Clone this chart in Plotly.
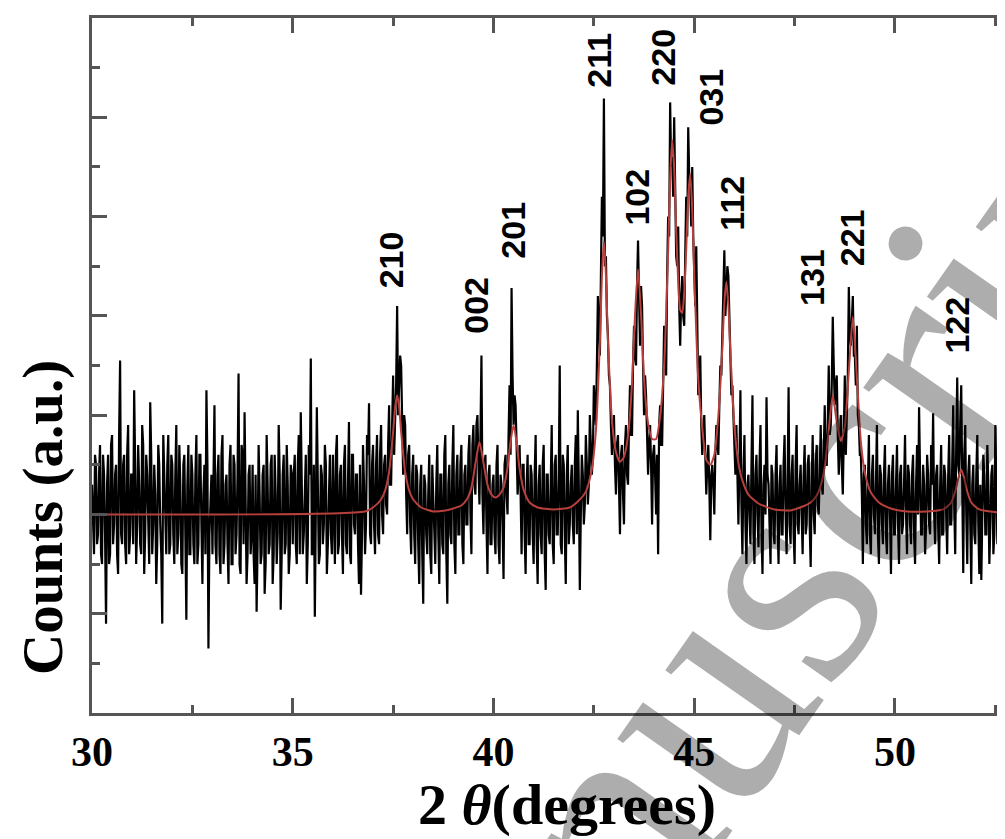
import numpy as np
import plotly.graph_objects as go

# ---- measured XRD pattern, points on the 0.05° grid (30.00 ... 52.85) ----
c30 = [2.3,1.6,2.5,1.8,2.7,1.5,2.4,0.9,2.6,1.6,2.8,1.9,2.5,1.4,3.55,1.7,2.6,1.5,2.9,1.8]
c31 = [2.4,3.25,1.5,2.7,1.7,2.9,1.4,2.6,1.8,3.13,1.6,2.5,1.3,2.7,1.9,0.9,2.4,1.6,2.8,1.7]
c32 = [2.5,1.5,2.9,1.8,2.3,1.4,2.6,0.94,2.7,1.6,2.4,1.5,2.8,1.7,2.6,1.3,2.5,3.25,0.65,2.2]
c33 = [1.6,3.1,1.5,2.6,1.4,2.8,1.7,2.4,1.3,2.7,1.5,2.5,1.8,3.42,1.4,2.6,3.03,1.3,2.4,1.6]
c34 = [2.5,1.3,1.02,2.7,1.5,2.4,1.2,2.8,1.6,2.5,1.3,2.6,1.5,2.9,1.04,2.4,1.6,2.7,1.4,2.5]
c35 = [1.7,2.6,1.5,2.8,3.03,1.6,2.4,1.3,2.7,3.57,1.6,0.97,3.08,1.5,2.5,1.7,2.7,1.4,2.4,1.8]
c36 = [2.6,1.5,2.8,1.7,2.5,1.4,2.7,1.6,2.93,1.5,2.6,1.8,2.4,1.3,1.19,2.7,1.6,2.8,3.12,1.7]
c37 = [2.7,1.6,2.8,1.7,2.9,1.8,2.6,2.0,3.1,2.3,3.4,3.0,4.1,3.3,3.5,2.4,2.9,1.8,2.7,1.6]
c38 = [2.6,1.5,2.4,1.3,2.5,1.1,2.3,1.6,2.6,1.4,2.2,1.5,2.7,1.3,2.4,1.6,2.8,1.1,2.5,1.7]
c39 = [2.9,1.4,2.6,1.8,2.7,1.5,2.5,1.9,2.8,1.6,2.9,2.2,3.0,2.1,3.6,1.8,2.6,1.4,2.5,1.7]
c40 = [2.4,1.6,2.7,1.5,2.3,1.35,2.6,2.0,3.3,4.28,2.9,3.1,2.2,2.7,1.6,2.5,1.4,2.6,1.7,2.4]
c41 = [1.5,2.8,1.3,2.5,1.6,2.7,1.24,2.4,1.7,2.9,1.5,2.6,1.8,3.5,1.6,2.5,1.3,2.7,1.9,2.5]
c42 = [1.7,2.8,3.05,1.24,2.6,1.9,2.8,2.1,3.0,2.4,3.3,2.9,4.2,3.6,5.2,6.19,4.6,3.8,3.3,2.6]
c43 = [3.0,2.2,2.8,1.8,2.7,1.9,2.9,2.3,3.3,2.8,3.9,3.5,4.76,3.7,4.1,3.0,3.2,2.4,2.9,1.9]
c44 = [2.7,2.0,1.6,3.1,2.7,3.9,3.4,5.0,6.15,5.6,6.0,4.6,4.9,3.7,4.4,3.9,5.2,5.9,5.3,5.5]
c45 = [4.3,4.7,3.2,3.6,2.6,3.0,2.2,2.7,1.74,2.5,2.0,2.9,2.6,3.5,3.9,4.66,4.2,4.4,3.5,3.3]
c46 = [2.6,2.9,1.9,3.25,1.6,2.8,1.5,2.4,1.7,3.2,1.5,2.6,1.67,2.9,1.4,2.5,3.18,2.3,1.5,2.4]
c47 = [1.7,2.7,1.5,2.5,1.8,2.8,1.6,3.28,1.7,2.6,1.5,2.9,1.8,2.5,1.6,2.7,1.9,2.6,1.47,2.8]
c48 = [1.8,2.7,2.0,2.9,2.2,3.1,2.5,3.5,2.9,3.99,3.1,3.4,2.4,3.0,2.2,3.4,3.0,4.29,3.7,4.2]
c49 = [3.6,3.9,2.9,2.6,1.5,2.5,1.7,2.8,1.6,2.6,1.8,2.9,1.5,2.4,1.7,2.7,1.6,2.5,1.4,2.6]
c50 = [1.8,2.7,1.5,2.5,1.9,2.8,1.6,2.4,1.7,2.6,1.5,2.7,3.08,1.8,2.5,1.6,2.6,1.9,2.7,3.02]
c51 = [1.7,2.5,1.5,2.7,1.8,2.4,1.6,2.8,1.9,3.1,1.6,3.38,2.4,3.3,1.41,2.9,1.5,2.6,1.3,2.5]
c52 = [1.7,2.8,1.4,1.34,2.6,1.8,2.7,1.5,2.4,1.6,2.9,1.7,2.5,1.4,2.6,1.8,2.7,1.6]

# ---- points half-way between (30.025 ... 52.875) ----
h30 = [1.9,2.6,1.7,2.4,1.6,2.6,1.8,2.3,1.5,2.7,1.7,2.4,1.6,2.8,1.8,2.5,1.7,2.6,1.6,2.4]
h31 = [1.7,2.5,1.9,2.3,1.6,2.7,1.8,2.4,1.5,2.6,1.9,2.2,1.7,2.5,1.6,2.8,1.8,2.5,1.6,2.6]
h32 = [1.8,2.4,1.6,2.7,1.5,2.5,1.8,2.3,1.6,2.6,1.7,2.4,1.5,2.6,1.9,2.2,1.6,2.5,1.8,2.4]
h33 = [2.5,1.7,2.4,1.6,2.6,1.5,2.3,1.7,2.5,1.5,2.6,1.6,2.4,1.5,2.7,1.7,2.2,1.6,2.5,1.8]
h34 = [1.6,2.4,1.7,2.2,1.6,2.5,1.5,2.3,1.7,2.6,1.6,2.2,1.8,2.4,1.6,2.6,1.7,2.3,1.6,2.4]
h35 = [2.4,1.7,2.5,1.6,2.3,1.8,2.6,1.7,2.4,1.6,2.5,1.8,2.3,1.6,2.4,1.9,2.5,1.7,2.6,1.6]
h36 = [1.8,2.6,1.6,2.4,1.8,2.5,1.7,2.3,1.6,2.6,1.9,2.4,1.7,2.5,1.8,2.3,1.9,2.6,1.8,2.5]
h37 = [1.9,2.5,1.8,2.6,2.0,2.5,2.1,2.7,2.3,2.9,2.6,3.3,3.0,3.6,2.7,3.0,2.2,2.6,1.9,2.4]
h38 = [1.8,2.5,1.7,2.3,1.6,2.4,1.8,2.2,1.6,2.5,1.7,2.3,1.8,2.4,1.7,2.6,1.6,2.3,1.8,2.5]
h39 = [1.7,2.4,1.8,2.5,1.7,2.4,1.9,2.6,2.0,2.7,2.3,2.9,2.5,2.8,2.2,2.5,1.9,2.4,1.7,2.3]
h40 = [1.8,2.5,1.7,2.4,1.9,2.5,2.2,2.8,2.6,3.4,3.2,2.7,2.4,2.2,2.5,1.8,2.3,1.7,2.5,1.8]
h41 = [2.4,1.7,2.3,1.8,2.5,1.6,2.4,1.8,2.3,1.7,2.5,1.8,2.4,1.7,2.6,1.8,2.4,1.7,2.3,1.9]
h42 = [2.5,1.8,2.3,2.0,2.4,2.1,2.5,2.3,2.7,2.6,3.1,3.5,3.9,4.4,4.8,4.5,4.0,3.4,2.9,2.8]
h43 = [2.5,2.7,2.3,2.6,2.2,2.7,2.4,2.9,2.8,3.5,3.6,4.3,4.2,4.3,3.5,3.4,2.8,2.7,2.5,2.6]
h44 = [2.4,2.6,2.9,2.7,3.3,3.6,4.4,4.8,5.5,5.2,5.3,4.5,4.1,4.2,4.0,4.6,4.8,5.4,4.9,4.8]
h45 = [4.1,3.8,3.4,2.9,2.8,2.6,2.5,2.3,2.4,2.3,2.6,2.7,3.1,3.4,4.1,4.0,4.5,3.9,3.2,2.9]
h46 = [2.4,2.2,2.5,2.1,2.4,1.9,2.3,2.0,2.5,1.8,2.4,2.0,2.5,1.8,2.3,2.0,2.4,1.9,2.5,1.8]
h47 = [2.4,1.9,2.3,1.8,2.5,2.0,2.3,1.9,2.4,1.8,2.5,1.9,2.3,2.0,2.4,1.8,2.5,1.9,2.3,2.0]
h48 = [2.5,2.1,2.4,2.3,2.6,2.5,2.9,2.8,3.3,3.5,3.3,2.8,2.7,2.5,2.8,2.6,3.4,3.8,3.9,3.6]
h49 = [3.3,3.0,2.6,2.2,2.4,1.9,2.3,1.8,2.4,2.0,2.3,1.8,2.5,1.9,2.4,1.8,2.3,2.0,2.4,1.8]
h50 = [2.3,1.9,2.4,1.8,2.3,2.0,2.5,1.9,2.4,1.8,2.3,2.0,2.4,1.8,2.3,1.9,2.4,1.8,2.3,2.0]
h51 = [2.4,1.9,2.3,1.8,2.5,2.0,2.4,1.9,2.5,2.1,2.7,2.5,2.9,2.3,2.6,2.0,2.4,1.9,2.3,1.8]
h52 = [2.4,1.9,2.3,2.0,2.4,1.8,2.3,1.9,2.5,1.8,2.3,2.0,2.4,1.9,2.3,1.8,2.4,1.9]

counts_grid = (c30 + c31 + c32 + c33 + c34 + c35 + c36 + c37 + c38 + c39 + c40 + c41
               + c42 + c43 + c44 + c45 + c46 + c47 + c48 + c49 + c50 + c51 + c52)
counts_half = (h30 + h31 + h32 + h33 + h34 + h35 + h36 + h37 + h38 + h39 + h40 + h41
               + h42 + h43 + h44 + h45 + h46 + h47 + h48 + h49 + h50 + h51 + h52)
n_pts = min(len(counts_grid), len(counts_half))
counts = np.empty(2 * n_pts)
counts[0::2] = counts_grid[:n_pts]
counts[1::2] = counts_half[:n_pts]
two_theta = np.round(30.0 + 0.025 * np.arange(2 * n_pts), 3)

# ---- fitted profile (red) ----
fit_2theta = [30.0, 36.8, 37.0, 37.2, 37.3, 37.4, 37.5, 37.55, 37.6, 37.65, 37.7, 37.8, 37.9, 38.0, 38.2, 38.5,
              38.8, 39.0, 39.2, 39.35, 39.45, 39.55, 39.65, 39.75, 39.85, 39.95, 40.05, 40.15, 40.25, 40.35,
              40.42, 40.5, 40.58, 40.65, 40.75, 40.9, 41.1, 41.5, 41.9, 42.1, 42.3, 42.45, 42.55, 42.65, 42.7,
              42.75, 42.8, 42.85, 42.95, 43.05, 43.15, 43.25, 43.35, 43.45, 43.52, 43.6, 43.68, 43.75, 43.85,
              43.95, 44.05, 44.15, 44.25, 44.35, 44.4, 44.45, 44.5, 44.55, 44.6, 44.65, 44.7, 44.75, 44.8,
              44.85, 44.9, 44.95, 45.0, 45.1, 45.2, 45.3, 45.4, 45.5, 45.6, 45.7, 45.75, 45.8, 45.85, 45.9,
              46.0, 46.1, 46.2, 46.35, 46.6, 47.0, 47.4, 47.7, 47.9, 48.05, 48.15, 48.25, 48.35, 48.45, 48.55,
              48.65, 48.75, 48.85, 48.95, 49.05, 49.15, 49.25, 49.4, 49.6, 49.9, 50.3, 50.8, 51.2, 51.4, 51.5,
              51.58, 51.65, 51.72, 51.8, 51.9, 52.1, 52.85]
fit_counts = [2.0, 2.03, 2.07, 2.15, 2.24, 2.43, 2.83, 3.08, 3.2, 3.08, 2.83, 2.43, 2.24, 2.15, 2.07, 2.03,
              2.04, 2.06, 2.09, 2.16, 2.27, 2.51, 2.73, 2.52, 2.30, 2.2, 2.17, 2.2, 2.27, 2.47,
              2.72, 2.9, 2.71, 2.46, 2.25, 2.12, 2.07, 2.05, 2.07, 2.13, 2.23, 2.46, 2.84, 3.74, 4.4,
              4.75, 4.41, 3.76, 2.95, 2.63, 2.53, 2.58, 2.79, 3.32, 3.97, 4.47, 3.98, 3.36, 2.92,
              2.76, 2.76, 2.99, 3.5, 4.65, 5.39, 5.77, 5.49, 4.87, 4.35, 4.06, 4.03, 4.23, 4.67,
              5.2, 5.43, 5.07, 4.41, 3.36, 2.87, 2.55, 2.5, 2.6, 2.99, 3.68, 4.13, 4.34, 4.11, 3.64,
              2.89, 2.52, 2.34, 2.2, 2.11, 2.05, 2.04, 2.08, 2.12, 2.19, 2.29, 2.48, 2.85, 3.2, 2.93,
              2.74, 2.88, 3.44, 3.99, 3.38, 2.73, 2.42, 2.22, 2.12, 2.06, 2.03, 2.03, 2.05, 2.12, 2.23,
              2.37, 2.45, 2.37, 2.23, 2.12, 2.05, 2.01]

# ---- reflection labels ----
peak_labels = ["210", "002", "201", "211", "102", "220", "031", "112", "131", "221", "122"]
label_2theta = [37.45, 39.56, 40.49, 42.63, 43.57, 44.22, 45.42, 45.94, 47.93, 48.95, 51.54]
label_height = [4.56, 4.11, 4.86, 6.57, 5.20, 6.61, 6.20, 5.14, 4.39, 4.79, 3.91]

x_ticks = [30, 35, 40, 45, 50]

fig = go.Figure()
fig.add_trace(go.Scatter(x=two_theta, y=counts, mode="lines",
                         line=dict(color="black", width=2.2), name="Data", showlegend=False))
fig.add_trace(go.Scatter(x=fit_2theta, y=fit_counts, mode="lines",
                         line=dict(color="#b8403c", width=2, shape="spline", smoothing=0.6),
                         name="Fit", showlegend=False))

for lab, xx, yy in zip(peak_labels, label_2theta, label_height):
    fig.add_annotation(x=xx, y=yy, xref="x", yref="y", text="<b>%s</b>" % lab, showarrow=False,
                       textangle=-90, font=dict(family="Liberation Sans", size=34, color="black"))

fig.add_annotation(xref="paper", yref="paper", x=0.520, y=-0.1813, xanchor="center", yanchor="bottom",
                   text="<b>2 <i>θ</i>(degrees)</b>", showarrow=False,
                   font=dict(family="Liberation Serif", size=58, color="black"))
fig.add_annotation(xref="paper", yref="paper", x=-0.0537, y=0.282, xanchor="center", yanchor="middle",
                   text="<b>Counts (a.u.)</b>", showarrow=False, textangle=-90,
                   font=dict(family="Liberation Serif", size=57, color="black"))

# watermark of the source page
fig.add_annotation(xref="paper", yref="paper", x=0.709, y=0.114, xanchor="center", yanchor="middle",
                   text="manuscript", showarrow=False, textangle=-55,
                   font=dict(family="Liberation Serif", size=320, color="rgba(0,0,0,0.32)"))

axis_col = "#555555"
fig.update_xaxes(range=[30, 52.74], tickvals=x_ticks, ticktext=[str(v) for v in x_ticks],
                 ticks="inside", ticklen=15, tickwidth=2.5, tickcolor=axis_col,
                 minor=dict(tickvals=[32.5, 37.5, 42.5, 47.5, 52.5], ticks="inside", ticklen=8,
                            tickwidth=2.5, tickcolor=axis_col),
                 showline=True, linecolor=axis_col, linewidth=3, mirror="ticks",
                 showgrid=False, zeroline=False,
                 tickfont=dict(family="Liberation Serif", size=42, color="black", weight="bold"))
fig.update_yaxes(range=[0, 7], tickvals=[1, 2, 3, 4, 5, 6], showticklabels=False,
                 ticks="inside", ticklen=15, tickwidth=2.5, tickcolor=axis_col,
                 minor=dict(tickvals=[0.5, 1.5, 2.5, 3.5, 4.5, 5.5, 6.5], ticks="inside", ticklen=8,
                            tickwidth=2.5, tickcolor=axis_col),
                 showline=True, linecolor=axis_col, linewidth=3,
                 showgrid=False, zeroline=False)
# the page adds an 8 px body margin, so the figure is 8 px smaller on each side
fig.update_layout(width=997, height=831, margin=dict(l=84, r=0, t=10, b=126),
                  plot_bgcolor="white", paper_bgcolor="white", showlegend=False)

fig.write_html("out.html")
